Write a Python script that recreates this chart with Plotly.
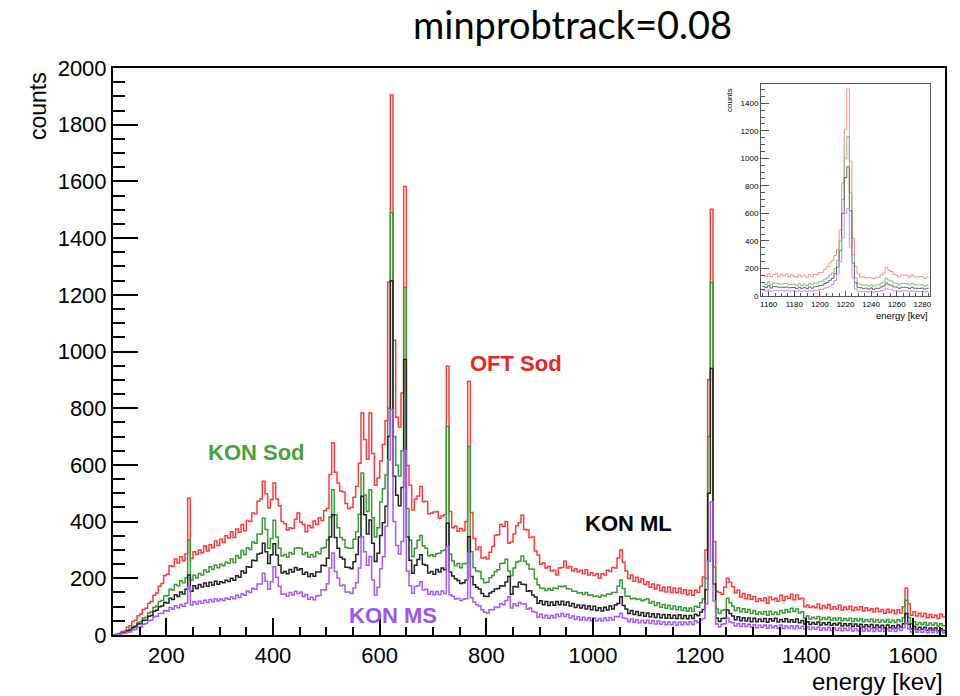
import plotly.graph_objects as go

# ---------------- data ----------------
BIN_START = 100      # keV
BIN_WIDTH = 5        # keV
X_MAX = 1660

oft_sod = [
    0,3,5,12,14,27,33,48,52,68,74,90,94,112,118,140,148,172,182,210,
    214,244,242,268,254,276,262,286,482,270,294,284,300,290,314,296,318,308,332,316,
    338,326,350,342,364,344,374,362,390,368,404,400,430,428,472,480,542,498,448,478,
    536,480,456,400,392,370,378,376,408,430,398,390,364,386,378,402,390,414,404,438,
    446,566,678,574,536,508,504,464,446,450,486,524,606,783,690,620,783,640,528,554,
    614,672,756,1245,1905,1040,768,734,854,1582,598,528,441,480,490,524,470,472,428,430,
    434,436,412,420,424,948,436,378,384,366,376,368,400,895,432,340,302,310,272,274,
    268,292,312,352,354,390,384,400,324,328,356,386,396,422,372,370,344,346,296,282,
    250,254,236,242,226,228,212,236,238,260,236,242,226,234,222,228,216,230,212,220,
    210,216,200,216,212,228,224,238,236,272,300,256,226,198,212,190,204,186,198,178,
    188,168,180,162,176,156,168,152,169,150,166,149,165,146,160,142,158,140,158,150,
    172,205,300,900,1502,330,154,150,144,168,200,186,170,148,158,134,146,128,142,126,
    136,118,128,121,131,112,134,124,130,119,140,122,136,130,144,124,141,127,130,100,
    106,97,101,96,109,93,104,95,108,91,100,92,105,88,99,90,101,86,98,89,
    100,85,96,86,93,81,94,82,90,77,91,79,88,75,89,78,100,165,110,70,
    82,67,77,65,76,61,72,62,70,58,74,64,
]

kon_sod = [
    0,1,4,7,10,17,21,30,33,45,48,60,63,78,82,98,102,118,122,138,
    139,161,159,178,174,191,184,201,335,194,211,201,217,212,229,222,241,232,246,237,
    250,244,257,253,269,256,280,272,298,284,308,302,328,324,356,356,412,372,306,340,
    405,346,306,279,284,274,291,286,306,308,306,284,291,274,284,276,293,287,306,309,
    336,416,512,424,378,344,336,309,306,306,338,364,426,571,494,436,512,414,346,378,
    469,516,564,800,1490,700,599,561,650,1226,446,334,277,306,334,351,314,306,279,283,
    278,287,288,297,300,736,286,261,244,252,237,251,252,665,294,237,226,224,198,184,
    186,202,210,224,230,252,253,267,226,210,236,257,260,279,260,250,233,232,198,177,
    166,164,157,164,158,166,164,172,170,173,163,162,154,154,148,149,143,150,140,141,
    136,138,133,140,138,145,144,150,150,172,194,164,138,137,128,130,125,127,121,124,
    128,112,118,104,114,98,108,94,105,92,102,89,100,86,96,84,95,84,101,98,
    114,128,200,700,1243,240,92,76,86,89,130,114,102,86,96,82,93,80,90,76,
    86,73,81,74,83,70,84,72,80,72,86,78,90,80,94,83,92,78,82,60,
    67,56,63,57,65,54,62,55,63,52,60,53,61,50,58,51,59,48,57,49,
    57,47,55,48,56,46,54,45,53,46,55,45,52,44,55,48,62,123,62,40,
    47,36,44,37,44,34,42,35,42,32,40,33,
]

kon_ml = [
    0,1,3,6,8,14,17,26,28,39,40,52,52,66,69,84,87,100,102,115,
    113,130,125,142,136,152,145,161,212,154,174,164,178,169,183,172,186,176,190,179,
    188,184,193,189,200,193,209,204,226,219,241,239,264,262,286,288,324,294,252,283,
    322,282,246,219,224,216,231,222,238,229,234,214,221,206,216,207,222,222,246,244,
    271,346,424,344,306,274,268,239,238,234,258,284,346,489,424,356,406,324,259,288,
    351,396,454,700,1250,560,493,456,520,972,346,264,218,246,266,283,249,246,219,224,
    214,231,222,236,230,394,222,208,198,192,182,184,194,347,206,177,168,162,146,137,
    136,148,153,162,164,174,173,187,206,144,171,169,186,179,178,154,156,141,134,112,
    121,107,118,104,116,105,118,107,119,106,116,102,111,97,106,95,105,92,102,89,
    101,86,96,85,98,88,102,92,106,111,135,104,92,76,86,72,83,69,79,66,
    78,64,75,62,74,61,72,59,71,59,70,58,71,58,69,57,69,58,73,68,
    80,90,160,500,940,180,60,48,58,59,88,76,67,54,64,50,61,49,60,47,
    59,47,56,48,58,45,57,49,59,46,55,47,57,46,54,45,56,43,51,39,
    47,37,44,38,46,35,43,36,44,34,41,35,42,32,40,33,40,30,39,31,
    38,28,36,29,37,26,35,27,34,25,35,26,33,24,35,28,40,76,38,22,
    30,19,27,20,27,17,25,18,25,15,23,16,
]

kon_ms = [
    0,1,2,5,6,10,11,18,19,27,28,38,41,50,53,64,66,76,76,86,
    84,97,91,103,96,108,101,112,171,106,117,109,119,112,123,115,125,117,128,120,
    127,122,130,126,134,128,140,132,145,140,155,150,165,161,180,180,218,190,161,188,
    241,204,171,144,145,138,150,141,154,146,152,136,143,126,133,124,138,139,160,159,
    181,236,289,224,201,174,176,152,152,146,166,184,236,347,294,246,277,194,141,168,
    234,276,384,618,795,400,316,286,330,650,226,174,147,171,174,188,159,161,144,153,
    142,153,143,155,146,312,142,137,127,129,122,126,128,289,131,116,107,102,89,80,
    78,89,89,99,97,110,107,122,135,95,110,103,115,109,110,91,95,83,80,63,
    73,61,70,59,69,61,73,65,76,65,73,60,67,55,64,53,63,52,61,50,
    60,49,58,49,60,51,62,53,65,64,77,60,58,47,56,45,54,43,52,42,
    52,41,50,39,49,38,47,36,46,36,46,35,46,36,46,37,47,37,50,44,
    54,58,110,260,470,120,39,29,38,40,59,46,43,32,41,30,40,30,38,27,
    37,26,34,27,35,24,34,26,33,24,35,23,32,25,33,22,33,24,31,20,
    29,19,27,20,28,17,26,18,27,16,25,17,25,15,24,16,25,14,23,15,
    23,13,22,14,23,12,21,13,22,12,21,13,22,12,23,16,26,41,22,11,
    20,10,18,10,19,8,17,9,17,8,16,8,
]

# inset (zoom on the 1222 keV line), 2 keV bins
INSET_START = 1155
INSET_WIDTH = 2
inset_oft_sod = [150,138,162,141,156,164,143,158,145,161,139,155,142,136,154,140,151,137,156,143,
                 158,156,170,172,193,212,241,258,294,340,480,820,1210,1504,980,420,215,163,137,141,
                 131,134,132,126,136,134,154,166,208,188,178,157,153,139,154,151,152,136,154,139,
                 138,140,141,127,137]
inset_kon_sod = [97,84,103,81,95,95,88,86,90,91,82,85,86,75,89,77,87,75,91,81,
                 93,94,104,108,122,133,152,168,202,260,400,700,1000,1158,750,300,132,88,84,77,
                 80,72,82,71,80,80,94,102,130,115,110,95,92,81,92,91,90,79,92,81,
                 80,80,82,72,80]
inset_kon_ml = [70,61,74,58,68,67,64,63,62,66,60,61,62,53,64,55,63,53,66,57,
                67,68,76,78,90,98,114,128,162,210,330,600,860,939,620,240,97,63,60,53,
                57,50,58,48,56,55,66,73,94,82,78,66,65,56,64,63,62,54,64,56,
                56,55,57,50,56]
inset_kon_ms = [43,37,45,34,41,41,39,39,38,40,36,37,38,32,39,34,38,32,40,35,
                41,41,47,48,57,62,73,84,112,160,250,420,600,636,350,130,51,36,35,31,
                33,29,34,28,33,32,39,43,57,48,46,38,38,32,38,37,37,31,38,32,
                33,32,34,29,34]

series = [
    ("OFT Sod", oft_sod, inset_oft_sod, "#ff3b3b", "#ff8a8a"),
    ("KON Sod", kon_sod, inset_kon_sod, "#3a9a35", "#7cc27a"),
    ("KON ML", kon_ml, inset_kon_ml, "#222222", "#666666"),
    ("KON MS", kon_ms, inset_kon_ms, "#a25bff", "#c08cff"),
]


def step_xy(values, start, width):
    xs = [start + width * i for i in range(len(values))]
    xs.append(start + width * len(values))
    ys = list(values) + [values[-1]]
    return xs, ys


fig = go.Figure()
for name, main_vals, inset_vals, col, light in series:
    x, y = step_xy(main_vals, BIN_START, BIN_WIDTH)
    fig.add_trace(go.Scatter(x=x, y=y, mode="lines", line=dict(shape="hv", color=col, width=1.5),
                             name=name, showlegend=False, xaxis="x", yaxis="y"))
for name, main_vals, inset_vals, col, light in series:
    x, y = step_xy(inset_vals, INSET_START, INSET_WIDTH)
    fig.add_trace(go.Scatter(x=x, y=y, mode="lines", line=dict(shape="hv", color=light, width=1),
                             name=name, showlegend=False, xaxis="x2", yaxis="y2"))

W, H = 960, 696
def px(x):
    return x / W
def py(y):
    return 1 - y / H

tickfont = dict(family="Liberation Sans, Arial, sans-serif", size=22, color="black")
small = dict(family="Liberation Sans, Arial, sans-serif", size=8, color="black")

fig.update_layout(
    width=W, height=H,
    margin=dict(l=0, r=0, t=0, b=0),
    paper_bgcolor="white", plot_bgcolor="white",
    showlegend=False,
    xaxis=dict(domain=[px(113), px(945)], range=[100, X_MAX], anchor="y", automargin=False,
               showgrid=False, zeroline=False, showline=True, linecolor="black", linewidth=2,
               mirror=True, ticks="inside", ticklen=17, tickwidth=1.5, tickcolor="black",
               tick0=0, dtick=200, tickfont=tickfont, ticklabelstandoff=0,
               minor=dict(ticks="inside", ticklen=8, tickwidth=1.5, tickcolor="black", tick0=0, dtick=50)),
    yaxis=dict(domain=[py(635), py(68)], range=[0, 2000], anchor="x", automargin=False,
               showgrid=False, zeroline=False, showline=True, linecolor="black", linewidth=2,
               mirror=True, ticks="inside", ticklen=25, tickwidth=1.5, tickcolor="black",
               tick0=0, dtick=200, tickfont=tickfont,
               minor=dict(ticks="inside", ticklen=12, tickwidth=1.5, tickcolor="black", tick0=0, dtick=50)),
    xaxis2=dict(domain=[px(761), px(930)], range=[1154, 1286], anchor="y2", automargin=False,
                showgrid=False, zeroline=False, showline=True, linecolor="#555555", linewidth=1,
                mirror=True, ticks="inside", ticklen=5, tickwidth=1, tickcolor="#555555",
                tick0=0, dtick=20, tickfont=small, ticklabelstandoff=0,
                minor=dict(ticks="inside", ticklen=3, tickwidth=1, tickcolor="#555555", tick0=0, dtick=5)),
    yaxis2=dict(domain=[py(296), py(84)], range=[0, 1540], anchor="x2", automargin=False,
                showgrid=False, zeroline=False, showline=True, linecolor="#555555", linewidth=1,
                mirror=True, ticks="inside", ticklen=8, tickwidth=1, tickcolor="#555555",
                tick0=0, dtick=200, tickfont=small,
                minor=dict(ticks="inside", ticklen=4, tickwidth=1, tickcolor="#555555", tick0=0, dtick=50)),
)

ann = []
ann.append(dict(text="minprobtrack=0.08", x=px(572), y=py(24), xref="paper", yref="paper",
                showarrow=False, xanchor="center", yanchor="middle",
                font=dict(family="Lato, Open Sans, sans-serif", size=38, color="black")))
ann.append(dict(text="counts", x=px(38), y=py(70), xref="paper", yref="paper", textangle=-90,
                showarrow=False, xanchor="center", yanchor="top",
                font=dict(family="Liberation Sans, Arial, sans-serif", size=23, color="black")))
ann.append(dict(text="energy [kev]", x=px(945), y=py(681), xref="paper", yref="paper",
                showarrow=False, xanchor="right", yanchor="middle",
                font=dict(family="Liberation Sans, Arial, sans-serif", size=24, color="black")))
ann.append(dict(text="counts", x=px(729), y=py(86), xref="paper", yref="paper", textangle=-90,
                showarrow=False, xanchor="center", yanchor="top",
                font=dict(family="Liberation Sans, Arial, sans-serif", size=8, color="black")))
ann.append(dict(text="energy [kev]", x=px(930), y=py(315), xref="paper", yref="paper",
                showarrow=False, xanchor="right", yanchor="middle",
                font=dict(family="Liberation Sans, Arial, sans-serif", size=9.5, color="black")))

labels = [("KON Sod", 256, 452, "#4a9e3c"), ("OFT Sod", 516, 363, "#e8261c"),
          ("KON ML", 628, 523, "#000000"), ("KON MS", 393, 615, "#9b55f5")]
for t, lx, ly, c in labels:
    ann.append(dict(text="<b>%s</b>" % t, x=px(lx), y=py(ly), xref="paper", yref="paper",
                    showarrow=False, xanchor="center", yanchor="middle",
                    font=dict(family="Liberation Sans, Arial, sans-serif", size=22, color=c)))
fig.update_layout(annotations=ann)

fig.write_html("out.html")
